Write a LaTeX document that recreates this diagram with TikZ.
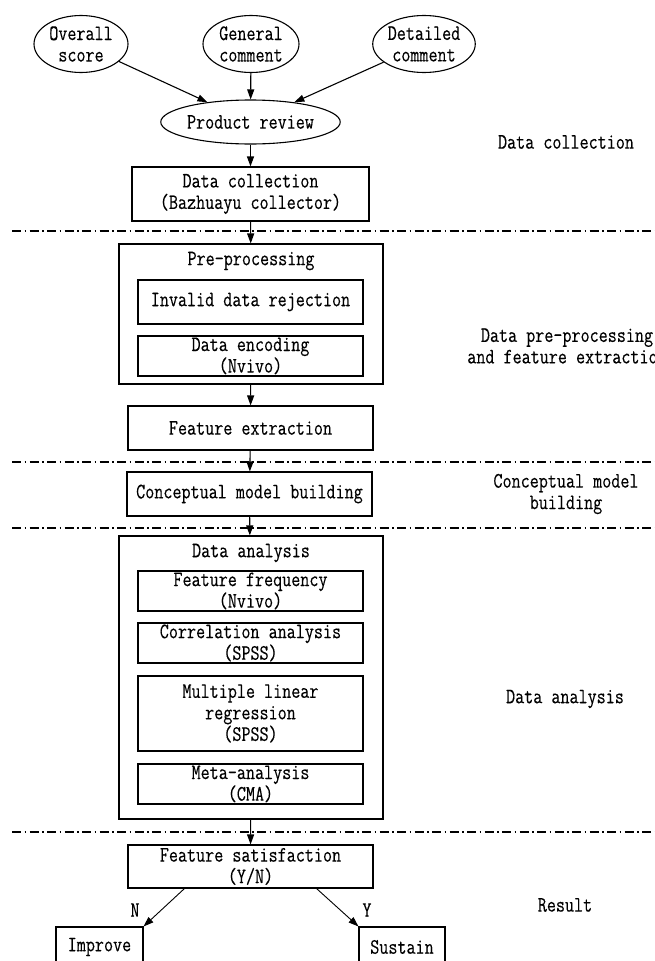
\documentclass[tikz,border=0pt]{standalone}
\usepackage{fontspec}
\setmainfont[FakeStretch=0.8,FakeBold=0.3]{Latin Modern Mono}
\usepackage{tikz}
\usetikzlibrary{positioning}
\usetikzlibrary{arrows.meta,calc}
\usetikzlibrary{shapes.geometric}
\tikzstyle{source} = [ellipse, draw=black, line width=1.1pt, inner sep=0pt, align=center]
\tikzstyle{process} = [rectangle, draw=black, line width=1.1pt, inner sep=0pt, align=center]
\tikzstyle{stage} = [rectangle, draw=black, line width=1.1pt, inner sep=0pt]
\tikzstyle{phase} = [align=center]
\tikzstyle{arrow} = [line width=1.1pt,-{Triangle[length=10pt,width=7pt]}]
\tikzstyle{branch} = [line width=0.9pt,-{Triangle[length=10pt,width=7pt]}]
\tikzstyle{divider} = [line width=1.2pt, dash pattern=on 9pt off 3.5pt on 1.5pt off 3.5pt]

\begin{document}
\begin{tikzpicture}[x=1pt, y=-1pt, font=\fontsize{22}{21.5}\selectfont]
\path[use as bounding box] (0,0) rectangle (655,961);
\clip (0,0) rectangle (655,961);
% inputs
\node (OS) [source, minimum width=94pt, minimum height=57pt] at (81,44) {Overall\\score};
\node (GC) [source, minimum width=96pt, minimum height=57pt] at (251,44) {General\\comment};
\node (DC) [source, minimum width=96pt, minimum height=57pt] at (424,44) {Detailed\\comment};
\node (PR) [source, minimum width=179pt, minimum height=44pt] at (250.5,122) {Product review};
\node (COL) [process, minimum width=237pt, minimum height=54pt] at (250.5,194) {Data collection\\(Bazhuayu collector)};
% pre-processing
\node (PRE) [stage, minimum width=264pt, minimum height=140pt] at (251,314) {};
\node (PRET) at (251,261) {Pre-processing};
\node (INV) [process, minimum width=225pt, minimum height=44pt] at (250.5,302) {Invalid data rejection};
\node (ENC) [process, minimum width=225pt, minimum height=40pt] at (250.5,356) {Data encoding\\(Nvivo)};
\node (FE) [process, minimum width=245pt, minimum height=44pt] at (250.5,428) {Feature extraction};
\node (CMB) [process, minimum width=245pt, minimum height=44pt] at (249.5,494) {Conceptual model building};
% analysis
\node (DA) [stage, minimum width=264pt, minimum height=283pt] at (251,677.5) {};
\node (DAT) at (251,553) {Data analysis};
\node (FF) [process, minimum width=225pt, minimum height=40pt] at (250.5,591) {Feature frequency\\(Nvivo)};
\node (CA) [process, minimum width=225pt, minimum height=40pt] at (250.5,643) {Correlation analysis\\(SPSS)};
\node (MLR) [process, minimum width=225pt, minimum height=75pt] at (250.5,713.5) {Multiple linear\\regression\\(SPSS)};
\node (MA) [process, minimum width=225pt, minimum height=40pt] at (250.5,784) {Meta-analysis\\(CMA)};
% result
\node (FS) [process, minimum width=245pt, minimum height=43pt] at (250.5,866.5) {Feature satisfaction\\(Y/N)};
\node (IMP) [process, minimum width=87pt, minimum height=40pt] at (99.5,947) {Improve};
\node (SUS) [process, minimum width=86pt, minimum height=40pt] at (402,947) {Sustain};
\node (N) at (135,910) {N};
\node (Y) at (367,910) {Y};
% phase labels
\node (L1) [phase] at (566,142) {Data collection};
\node (L2) [phase] at (567,346) {Data pre-processing\\and feature extraction};
\node (L3) [phase] at (566,494) {Conceptual model\\building};
\node (L4) [phase] at (565,699) {Data analysis};
\node (L5) [phase] at (565,905) {Result};
% dividers
\draw [divider] (12,231) -- (655,231);
\draw [divider] (12,462) -- (655,462);
\draw [divider] (12,528) -- (655,528);
\draw [divider] (12,832) -- (655,832);
% arrows
\draw [arrow] (OS) -- (PR);
\draw [arrow] (GC) -- (PR);
\draw [arrow] (DC) -- (PR);
\draw [arrow] (PR) -- (COL);
\draw [arrow] (COL) -- (PRE);
\draw [arrow] (PRE) -- (FE);
\draw [arrow] (FE) -- (CMB);
\draw [arrow] (CMB) -- (DA);
\draw [arrow] (DA) -- (FS);
\draw [branch] ([xshift=57pt]FS.south west) -- (IMP.north east);
\draw [branch] ([xshift=-57pt]FS.south east) -- (SUS.north west);
\end{tikzpicture}
\end{document}
